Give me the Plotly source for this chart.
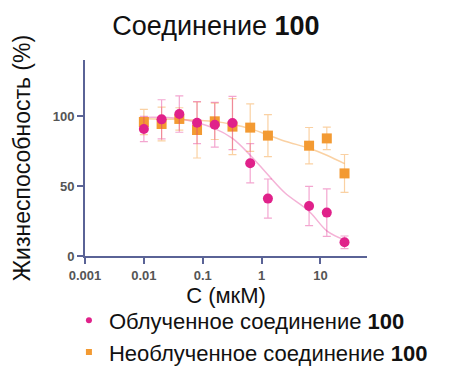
import plotly.graph_objects as go

conc = [0.01, 0.02, 0.04, 0.08, 0.16, 0.32, 0.64, 1.28, 6.4, 12.8, 25.6]
irr_vals = [90.7, 97.6, 101.4, 95.2, 93.8, 95.0, 66.2, 41.0, 35.7, 31.0, 9.8]
irr_err = [9, 14, 13, 15, 16, 19, 14, 14, 14, 17, 4.5]
non_vals = [95.7, 94.3, 97.9, 90.0, 96.2, 92.4, 91.7, 86.0, 78.8, 84.0, 59.0]
non_err = [9, 12, 8, 20, 13, 20, 17, 15, 13, 8, 13.5]

fit_x = [0.01, 0.04, 0.16, 0.32, 0.64, 1.28, 2.5, 6.4, 12.8, 25.6]
irr_fit = [99, 98, 91, 84, 72, 58, 45, 32, 18, 11.5]
non_fit = [98, 97.5, 96, 94, 91, 86.4, 82, 77, 72, 66]

x_tickvals = [0.001, 0.01, 0.1, 1, 10]
x_ticktext = ["0.001", "0.01", "0.1", "1", "10"]
y_tickvals = [0, 50, 100]

irr_name = "Облученное соединение <b>100</b>"
non_name = "Необлученное соединение <b>100</b>"

PINK = "#E0218A"
ORANGE = "#F39A32"
AXIS = "#5A6396"

fig = go.Figure()
fig.add_trace(go.Scatter(x=fit_x, y=irr_fit, mode="lines", line=dict(color="rgba(224,33,138,0.35)", width=1.5, shape="spline"), showlegend=False, hoverinfo="skip"))
fig.add_trace(go.Scatter(x=fit_x, y=non_fit, mode="lines", line=dict(color="rgba(243,154,50,0.45)", width=1.5, shape="spline"), showlegend=False, hoverinfo="skip"))
fig.add_trace(go.Scatter(x=conc, y=non_vals, mode="markers", showlegend=False,
                         marker=dict(symbol="square", size=10, color=ORANGE),
                         error_y=dict(type="data", array=non_err, color="rgba(243,154,50,0.45)", thickness=1.2, width=4)))
fig.add_trace(go.Scatter(x=conc, y=irr_vals, mode="markers", showlegend=False,
                         marker=dict(symbol="circle", size=10, color=PINK),
                         error_y=dict(type="data", array=irr_err, color="rgba(224,33,138,0.4)", thickness=1.2, width=4)))
# legend entries (small symbols as in the reference)
fig.add_trace(go.Scatter(x=[None], y=[None], mode="markers", name=irr_name,
                         marker=dict(symbol="circle", size=6, color=PINK)))
fig.add_trace(go.Scatter(x=[None], y=[None], mode="markers", name=non_name,
                         marker=dict(symbol="square", size=6, color=ORANGE)))

fig.update_layout(
    width=455, height=359,
    margin=dict(l=77, r=96, t=52, b=111, autoexpand=False),
    paper_bgcolor="white", plot_bgcolor="white",
    font=dict(family="Liberation Sans, Arial, sans-serif", color="#222"),
    title=dict(text="Соединение <b>100</b>", x=0.4645, xanchor="center", xref="paper",
               y=0.95, yanchor="middle", font=dict(size=27, color="#111")),
    legend=dict(orientation="v", x=-0.057, xanchor="left", y=-0.222, yanchor="top",
                font=dict(size=22, color="#111"), itemwidth=30, tracegroupgap=0,
                bgcolor="rgba(0,0,0,0)"),
    xaxis=dict(type="log", range=[-3, 1.79], tickvals=x_tickvals, ticktext=x_ticktext,
               showline=True, linecolor=AXIS, linewidth=2, ticks="outside", ticklen=6,
               tickcolor=AXIS, tickwidth=2, showgrid=False, zeroline=False, automargin=False,
               tickfont=dict(size=13, color="#555", weight="bold"),
               title=dict(text="C (мкМ)", font=dict(size=22, color="#111"), standoff=1)),
    yaxis=dict(range=[0, 140], tickvals=y_tickvals, showline=True, linecolor=AXIS, linewidth=2,
               ticks="outside", ticklen=6, tickcolor=AXIS, tickwidth=2, showgrid=False,
               zeroline=False, automargin=False, tickfont=dict(size=13, color="#555", weight="bold"),
               title=dict(text="Жизнеспособность (%)", font=dict(size=23, color="#111"), standoff=16)),
)

fig.write_html("out.html")
